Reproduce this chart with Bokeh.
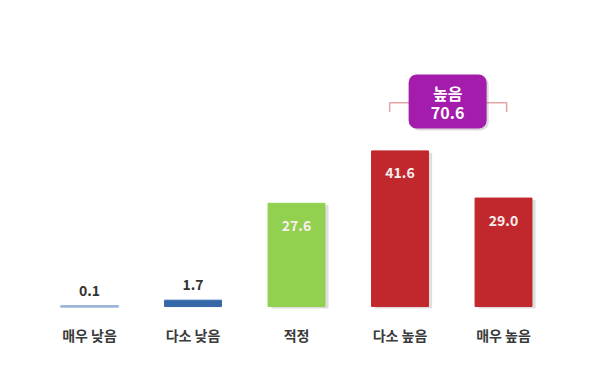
from bokeh.plotting import figure
from bokeh.models import ColumnDataSource, Range1d
from bokeh.core.properties import value
from bokeh.embed import file_html
from bokeh.resources import INLINE

categories = ["매우 낮음", "다소 낮음", "적정", "다소 높음", "매우 높음"]
values = [0.1, 1.7, 27.6, 41.6, 29.0]
value_labels = ["0.1", "1.7", "27.6", "41.6", "29.0"]
colors = ["#9db5d6", "#3566a8", "#92d050", "#c0282d", "#c0282d"]
group_label = "높음"
group_total = "70.6"

FONT = "Noto Sans CJK KR"

xs = list(range(len(categories)))
src = ColumnDataSource(dict(
    x=xs, top=values, color=colors, cat=categories, lab=value_labels,
    lw=[2.5, 1, 1, 1, 1],
))

p = figure(width=600, height=382, output_backend="svg", toolbar_location=None,
           x_range=Range1d(-0.86, 4.937), y_range=Range1d(-20.3, 81.8),
           min_border=0, outline_line_color=None)
p.axis.visible = False
p.grid.visible = False
p.background_fill_color = "white"
p.border_fill_color = "white"

# soft shadow
p.vbar(x=[x + 0.035 for x in xs[2:]], top=[v - 0.5 for v in values[2:]], bottom=-0.5,
       width=0.55, fill_color="#b0b0b0", fill_alpha=0.4, line_color=None)

p.vbar(x="x", top="top", bottom=0, width=0.55, source=src,
       fill_color="color", line_color="color", line_width="lw")

# value labels: small bars above, large bars inside
small = [i for i, v in enumerate(values) if v < 10]
large = [i for i, v in enumerate(values) if v >= 10]
p.text(x=[xs[i] for i in small], y=[values[i] for i in small],
       text=[value_labels[i] for i in small], y_offset=-10,
       text_align="center", text_baseline="bottom",
       text_font=value(FONT), text_font_size="14px", text_font_style="bold",
       text_color="#333333")
p.text(x=[xs[i] for i in large], y=[values[i] for i in large],
       text=[value_labels[i] for i in large], y_offset=22,
       text_align="center", text_baseline="middle",
       text_font=value(FONT), text_font_size="14px", text_font_style="bold",
       text_color="#fbeeee")

# category labels
p.text(x="x", y=0, text="cat", source=src, y_offset=28,
       text_align="center", text_baseline="middle",
       text_font=value(FONT), text_font_size="14px", text_font_style="bold",
       text_color="#3a3a3a")

# bracket over the two "high" bars
bx0, bx1 = xs[3] - 0.1, xs[4] + 0.03
by, byt = 54.5, 52.0
p.line([bx0, bx0, bx1, bx1], [byt, by, by, byt], line_color="#e3a3a3", line_width=1.5)

# purple summary box
cx = (xs[3] + xs[4]) / 2 - 0.04
cy = 54.8
p.rect(x=[cx + 0.02], y=[cy - 0.5], width=78, height=54, width_units="screen",
       height_units="screen", fill_color="#888888", fill_alpha=0.3, line_color=None,
       border_radius=8)
p.rect(x=[cx], y=[cy], width=78, height=54, width_units="screen",
       height_units="screen", fill_color="#a31cab", line_color=None, border_radius=8)
p.text(x=[cx, cx], y=[cy, cy], text=[group_label, group_total], y_offset=[-9, 11],
       text_align="center", text_baseline="middle",
       text_font=value(FONT), text_font_size="16px", text_font_style="bold",
       text_color="white")

open("out.html", "w").write(file_html(p, INLINE))
